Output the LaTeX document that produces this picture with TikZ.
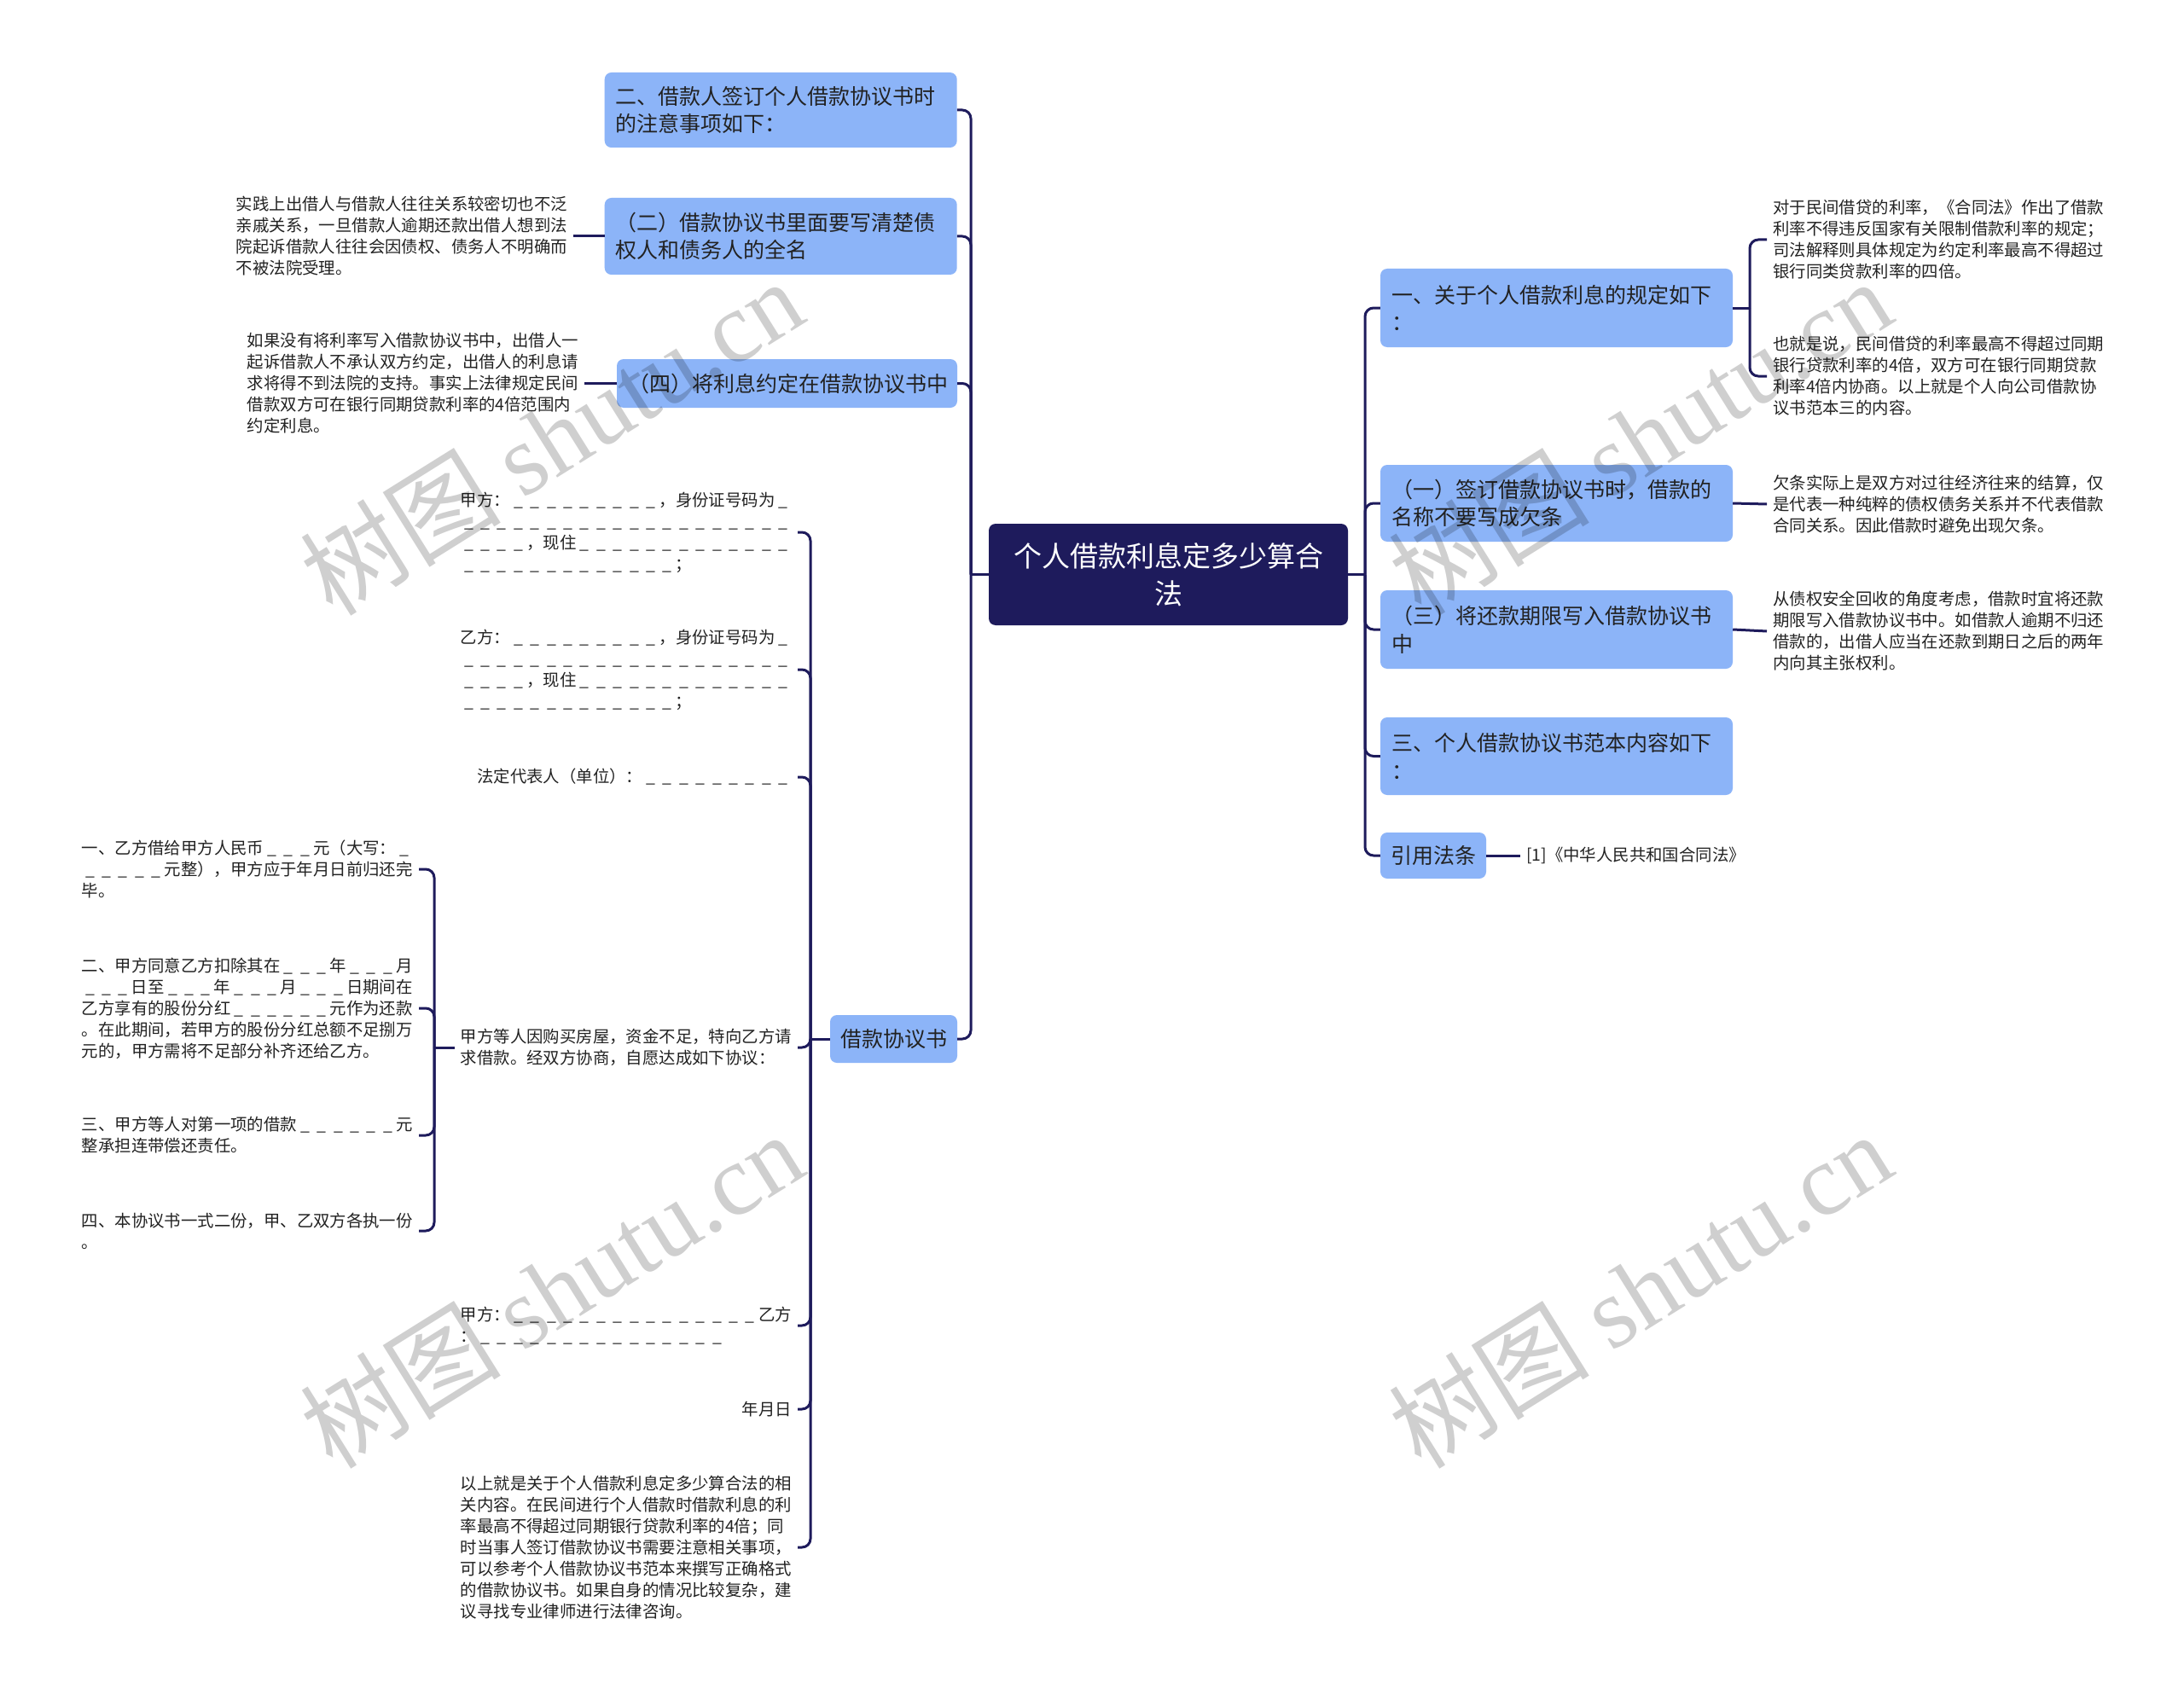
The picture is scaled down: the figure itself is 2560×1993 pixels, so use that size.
\documentclass[tikz,border=0pt]{standalone}
\usepackage{fontspec}
\setmainfont{Noto Sans CJK SC}
\newfontfamily\wmserif{Liberation Serif}
\definecolor{navy}{HTML}{1E1B5C}
\definecolor{boxblue}{HTML}{8CB4F8}
\definecolor{txt}{HTML}{222222}
\newcommand\U{\makebox[1em][c]{\_}}
\newcount\ucnt
\newcommand\Un[1]{\ucnt=#1\relax\loop\ifnum\ucnt>0 \U\advance\ucnt by -1\repeat}
\begin{document}
\begin{tikzpicture}[x=1pt,y=-1pt,
  box/.style={fill=boxblue, rounded corners=8pt, text=txt, font=\fontsize{25pt}{32.7pt}\selectfont, align=left, inner xsep=13pt, inner ysep=0pt},
  rootbox/.style={fill=navy, rounded corners=8pt, text=white, font=\fontsize{33pt}{44pt}\selectfont, align=center, minimum width=421pt, minimum height=119pt},
  leaf/.style={text=txt, font=\fontsize{19.4pt}{25pt}\selectfont, align=left, inner xsep=7pt, inner ysep=2pt},
  conn/.style={draw=navy, line width=3pt, rounded corners=10pt},
  wm/.style={text=black, text opacity=0.19, font=\fontsize{118pt}{118pt}\selectfont, rotate=32}]
\useasboundingbox[fill=white] (0,0) rectangle (2560,1993);

% root
\node[rootbox] (root) at (1369.5,673.5) {个人借款利息定多少算合\\法};

% left main boxes
\node[box, text width=387pt, minimum height=88pt] (A) at (915.2,129) {二、借款人签订个人借款协议书时\\的注意事项如下：};
\node[box, text width=387pt, minimum height=90pt] (B) at (915.2,277) {（二）借款协议书里面要写清楚债\\权人和债务人的全名};
\node[box, text width=373pt, minimum height=57pt] (C) at (922.5,449.5) {（四）将利息约定在借款协议书中};
\node[box, text width=125pt, inner xsep=12pt, minimum height=56pt] (xy) at (1047.5,1218) {借款协议书};

% right main boxes
\node[box, text width=387pt, minimum height=92pt] (R1) at (1824.5,361) {一、关于个人借款利息的规定如下\\：};
\node[box, text width=387pt, minimum height=90pt] (R2) at (1824.5,590) {（一）签订借款协议书时，借款的\\名称不要写成欠条};
\node[box, text width=387pt, minimum height=92pt] (R3) at (1824.5,738) {（三）将还款期限写入借款协议书\\中};
\node[box, text width=387pt, minimum height=91pt] (R4) at (1824.5,886.5) {三、个人借款协议书范本内容如下\\：};
\node[box, text width=100pt, inner xsep=12pt, minimum height=54pt] (R5) at (1680,1003) {引用法条};

% left leaves of A/B/C
\node[leaf, anchor=east] (lB) at (672,277) {实践上出借人与借款人往往关系较密切也不泛\\亲戚关系，一旦借款人逾期还款出借人想到法\\院起诉借款人往往会因债权、债务人不明确而\\不被法院受理。};
\node[leaf, anchor=east] (lC) at (685,449.5) {如果没有将利率写入借款协议书中，出借人一\\起诉借款人不承认双方约定，出借人的利息请\\求将得不到法院的支持。事实上法律规定民间\\借款双方可在银行同期贷款利率的4倍范围内\\约定利息。};

% right leaves
\node[leaf, anchor=west] (r1a) at (2071,281) {对于民间借贷的利率，《合同法》作出了借款\\利率不得违反国家有关限制借款利率的规定；\\司法解释则具体规定为约定利率最高不得超过\\银行同类贷款利率的四倍。};
\node[leaf, anchor=west] (r1b) at (2071,441) {也就是说，民间借贷的利率最高不得超过同期\\银行贷款利率的4倍，双方可在银行同期贷款\\利率4倍内协商。以上就是个人向公司借款协\\议书范本三的内容。};
\node[leaf, anchor=west] (r2a) at (2071,591) {欠条实际上是双方对过往经济往来的结算，仅\\是代表一种纯粹的债权债务关系并不代表借款\\合同关系。因此借款时避免出现欠条。};
\node[leaf, anchor=west] (r3a) at (2071,740) {从债权安全回收的角度考虑，借款时宜将还款\\期限写入借款协议书中。如借款人逾期不归还\\借款的，出借人应当在还款到期日之后的两年\\内向其主张权利。};
\node[leaf, anchor=west] (r5a) at (1782,1003) {[1]《中华人民共和国合同法》};

% leaves of 借款协议书
\node[leaf, anchor=east] (L1) at (935,624) {甲方：\Un{9}，身份证号码为\U\\\Un{20}\\\Un{4}，现住\Un{13}\\\Un{13}；};
\node[leaf, anchor=east] (L2) at (935,785) {乙方：\Un{9}，身份证号码为\U\\\Un{20}\\\Un{4}，现住\Un{13}\\\Un{13}；};
\node[leaf, anchor=east] (L3) at (935,911) {法定代表人（单位）：\Un{9}};
\node[leaf, anchor=east] (L4) at (935,1228) {甲方等人因购买房屋，资金不足，特向乙方请\\求借款。经双方协商，自愿达成如下协议：};
\node[leaf, anchor=east] (L5) at (935,1554) {甲方：\Un{15}乙方\\：\Un{15}};
\node[leaf, anchor=east] (L6) at (935,1652) {年月日};
\node[leaf, anchor=east] (L7) at (935,1814) {以上就是关于个人借款利息定多少算合法的相\\关内容。在民间进行个人借款时借款利息的利\\率最高不得超过同期银行贷款利率的4倍；同\\时当事人签订借款协议书需要注意相关事项，\\可以参考个人借款协议书范本来撰写正确格式\\的借款协议书。如果自身的情况比较复杂，建\\议寻找专业律师进行法律咨询。};

% children of L4
\node[leaf, anchor=east] (C1) at (491,1019) {一、乙方借给甲方人民币\Un{3}元（大写：\U\\\Un{5}元整），甲方应于年月日前归还完\\毕。};
\node[leaf, anchor=east] (C2) at (491,1182) {二、甲方同意乙方扣除其在\Un{3}年\Un{3}月\\\Un{3}日至\Un{3}年\Un{3}月\Un{3}日期间在\\乙方享有的股份分红\Un{6}元作为还款\\。在此期间，若甲方的股份分红总额不足捌万\\元的，甲方需将不足部分补齐还给乙方。};
\node[leaf, anchor=east] (C3) at (491,1331) {三、甲方等人对第一项的借款\Un{6}元\\整承担连带偿还责任。};
\node[leaf, anchor=east] (C4) at (491,1443) {四、本协议书一式二份，甲、乙双方各执一份\\。};

% junctions
\coordinate (lj) at (1138,673.5);
\coordinate (rj) at (1600,673.5);
\coordinate (r1j) at (2051,361);
\coordinate (xyj) at (950,1218);
\coordinate (l4j) at (509,1228);

% connectors
\draw[conn] (root.west) -- (lj);
\foreach \n in {A,B,C,xy} \draw[conn] (lj) |- (\n.east);
\draw[conn] (root.east) -- (rj);
\foreach \n in {R1,R2,R3,R4,R5} \draw[conn] (rj) |- (\n.west);
\draw[conn] (B.west) -- (lB.east);
\draw[conn] (C.west) -- (lC.east);
\draw[conn] (R1.east) -- (r1j);
\draw[conn] (r1j) |- (r1a.west);
\draw[conn] (r1j) |- (r1b.west);
\draw[conn] (R2.east) -- (r2a.west);
\draw[conn] (R3.east) -- (r3a.west);
\draw[conn] (R5.east) -- (r5a.west);
\draw[conn] (xy.west) -- (xyj);
\foreach \n in {L1,L2,L3,L4,L5,L6,L7} \draw[conn] (xyj) |- (\n.east);
\draw[conn] (L4.west) -- (l4j);
\foreach \n in {C1,C2,C3,C4} \draw[conn] (l4j) |- (\n.east);

% watermarks
\node[wm] (w1) at (646,512) {树图 {\wmserif shutu.cn}};
\node[wm] (w2) at (646,1512) {树图 {\wmserif shutu.cn}};
\node[wm] (w3) at (1922,512) {树图 {\wmserif shutu.cn}};
\node[wm] (w4) at (1922,1512) {树图 {\wmserif shutu.cn}};
\end{tikzpicture}
\end{document}
